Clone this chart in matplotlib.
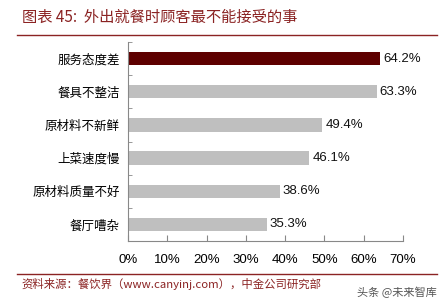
import matplotlib
matplotlib.use("Agg")
import matplotlib.pyplot as plt
from matplotlib.lines import Line2D

plt.rcParams['font.family'] = ['Noto Sans CJK SC', 'DejaVu Sans']

# data (top to bottom)
categories = ["服务态度差", "餐具不整洁", "原材料不新鲜", "上菜速度慢", "原材料质量不好", "餐厅嘈杂"]
values = [64.2, 63.3, 49.4, 46.1, 38.6, 35.3]
xticks = [0, 10, 20, 30, 40, 50, 60, 70]

title = "图表 45:  外出就餐时顾客最不能接受的事"
source = "资料来源：餐饮界（www.canyinj.com），中金公司研究部"
watermark = "头条 @未来智库"

dark_red = "#5E0000"
grey_bar = "#BFBFBF"
title_red = "#8B2323"

fig = plt.figure(figsize=(4.47, 3.05), dpi=100)
ax = fig.add_axes([0.2864, 0.2098, 0.6152, 0.6525])

pos = list(range(len(categories)))[::-1]
colors = [dark_red] + [grey_bar] * (len(values) - 1)
ax.barh(pos, values, height=0.4, color=colors)

for p, v in zip(pos, values):
    ax.text(v + 0.8, p, f"{v:.1f}%", va="center", ha="left",
            fontsize=9.5, family="Liberation Sans", color="#111111")

ax.set_xlim(0, 70)
ax.set_ylim(-0.5, len(categories) - 0.5)
ax.set_xticks(xticks)
ax.set_xticklabels([f"{t}%" for t in xticks], family="Liberation Sans", fontsize=9.5)
ax.set_yticks(pos)
ax.set_yticklabels(categories, fontsize=9)
ax.tick_params(axis="y", length=0, pad=6)
# small inward ticks at category boundaries
ax.set_yticks([p + 0.5 for p in range(-1, len(categories))], minor=True)
ax.tick_params(axis="y", which="minor", direction="in", length=3, color="#888888")
ax.tick_params(axis="x", direction="in", length=4, color="#888888", pad=9)

for s in ["top", "right"]:
    ax.spines[s].set_visible(False)
for s in ["left", "bottom"]:
    ax.spines[s].set_color("#888888")
    ax.spines[s].set_linewidth(0.8)

# header / footer
fig.text(22 / 447, 1 - 17 / 305, title, fontsize=11, color=title_red, va="center", ha="left")
fig.add_artist(Line2D([17 / 447, 437 / 447], [1 - 35 / 305] * 2, color=title_red, lw=1))
fig.add_artist(Line2D([17 / 447, 437 / 447], [1 - 274 / 305] * 2, color=title_red, lw=1))
fig.text(21 / 447, 1 - 284 / 305, source, fontsize=8.2, color=title_red, va="center", ha="left")
fig.text(437 / 447, 1 - 292 / 305, watermark, fontsize=8, color="#555555", va="center", ha="right")

fig.savefig("out.png", dpi=100)
